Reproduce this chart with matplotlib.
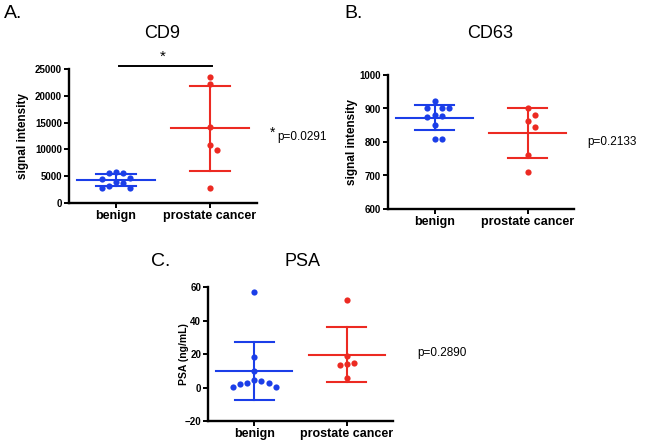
import numpy as np
import matplotlib
matplotlib.use("Agg")
import matplotlib.pyplot as plt

plt.rcParams['font.family'] = ['Liberation Sans', 'DejaVu Sans']

groups = ['benign', 'prostate cancer']

cd9_benign = [5660, 5660, 5720, 4730, 4480, 3980, 3730, 3230, 2860, 2860]
cd9_cancer = [23600, 22200, 14200, 10900, 9850, 2800]

cd63_benign = [921.6, 900.7, 900.7, 902.7, 881.9, 876, 877, 850, 810, 810]
cd63_cancer = [902.7, 881.9, 863, 845, 760.8, 710.2]

psa_benign = [56.9, 18.5, 9.7, 4.2, 2.8, 2.2, 0.2, 0.2, 2.4, 3.6]
psa_cancer = [52.2, 18.7, 13.9, 13.3, 14.5, 5.4]

BLUE = '#1b3ee8'
RED = '#ec2a22'
W, H = 648, 440


def swarm(vals, ylim, height_px, unit_px, step=7.2):
    # simple greedy beeswarm in pixel space
    ys = (np.asarray(vals, float) - ylim[0]) / (ylim[1] - ylim[0]) * height_px
    cands = [0] + [s * j for j in range(1, 12) for s in (1, -1)]
    placed = []
    offs = np.zeros(len(ys))
    for i in np.argsort(-ys):
        for c in cands:
            x = c * step
            if all(np.hypot(x - px, ys[i] - py) >= step for px, py in placed):
                break
        placed.append((x, ys[i]))
        offs[i] = x / unit_px
    return offs


def panel(rect, data, ylim, yticks, ylabel, title, title_xy, ylab_x):
    ax = fig.add_axes([rect[0] / W, 1 - rect[3] / H,
                       (rect[2] - rect[0]) / W, (rect[3] - rect[1]) / H])
    unit_px = (rect[2] - rect[0]) / 2.0
    for k, (vals, col) in enumerate(zip(data, [BLUE, RED])):
        v = np.asarray(vals, float)
        m, sd = v.mean(), v.std(ddof=1)
        ax.plot([k - 0.41, k + 0.41], [m, m], color=col, lw=1.5, zorder=2)
        ax.plot([k, k], [m - sd, m + sd], color=col, lw=1.5, zorder=2)
        for e in (m - sd, m + sd):
            ax.plot([k - 0.21, k + 0.21], [e, e], color=col, lw=1.5, zorder=2)
        dx = swarm(v, ylim, rect[3] - rect[1], unit_px)
        ax.scatter(k + dx, v, s=20, color=col, zorder=3, linewidths=0)
    ax.set_xlim(-0.5, 1.5)
    ax.set_ylim(*ylim)
    ax.set_yticks(yticks)
    ax.set_xticks([0, 1])
    ax.set_xticklabels(groups, fontsize=9, fontweight='bold')
    for t in ax.get_yticklabels():
        t.set_fontsize(7)
        t.set_fontweight('bold')
    ax.spines['top'].set_visible(False)
    ax.spines['right'].set_visible(False)
    for s in ('left', 'bottom'):
        ax.spines[s].set_linewidth(1.7)
    ax.tick_params(length=3.5, width=1.4, pad=1.5)
    ax.set_ylabel(ylabel, fontsize=8.5, fontweight='bold')
    ax.yaxis.set_label_coords(ylab_x, 0.5)
    fig.text(title_xy[0] / W, 1 - title_xy[1] / H, title, fontsize=13,
             ha='center', va='center')
    return ax


fig = plt.figure(figsize=(6.48, 4.4), dpi=100)

axA = panel((69, 69, 257, 203), [cd9_benign, cd9_cancer], (0, 25000),
            [0, 5000, 10000, 15000, 20000, 25000], 'signal intensity',
            'CD9', (162, 33), -0.215)
axA.plot([0.03, 1.02], [25600, 25600], color='black', lw=1.4, clip_on=False)
fig.text(163 / W, 1 - 57 / H, '*', fontsize=11, ha='center', va='center')

axB = panel((388, 75, 574, 209), [cd63_benign, cd63_cancer], (600, 1000),
            [600, 700, 800, 900, 1000], 'signal intensity',
            'CD63', (490, 33), -0.16)

axC = panel((208, 287, 393, 421), [psa_benign, psa_cancer], (-20, 60),
            [-20, 0, 20, 40, 60], 'PSA (ng/mL)',
            'PSA', (302, 262), -0.105)
axC.yaxis.label.set_fontsize(7.5)

fig.text(4 / W, 1 - 14 / H, 'A.', fontsize=14, va='center')
fig.text(344 / W, 1 - 14 / H, 'B.', fontsize=14, va='center')
fig.text(151 / W, 1 - 261 / H, 'C.', fontsize=14, va='center')

fig.text(270 / W, 1 - 133 / H, '*', fontsize=10, va='center')
fig.text(277 / W, 1 - 137 / H, 'p=0.0291', fontsize=8.5, va='center')
fig.text(587 / W, 1 - 142 / H, 'p=0.2133', fontsize=8.5, va='center')
fig.text(417 / W, 1 - 353 / H, 'p=0.2890', fontsize=8.5, va='center')

fig.savefig('out.png', dpi=100)
